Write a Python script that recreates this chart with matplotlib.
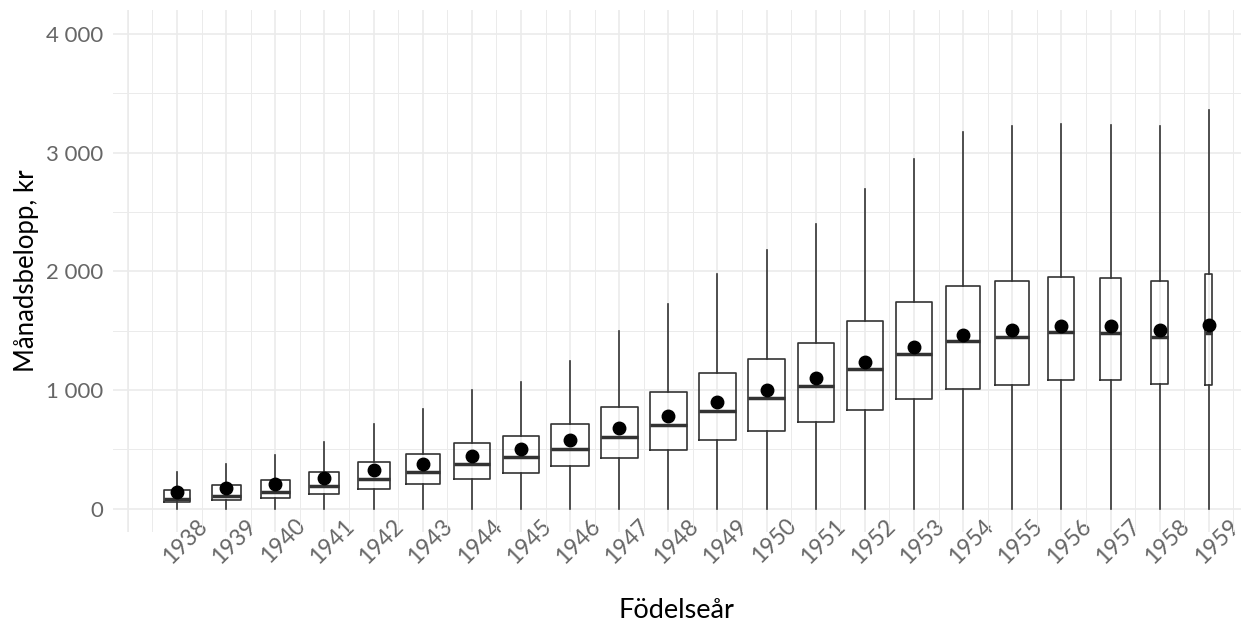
import matplotlib.pyplot as plt
import matplotlib.transforms as mtransforms
from matplotlib.ticker import FuncFormatter, MultipleLocator

# Födelseår och fördelning av månadsbelopp (kr)
years = list(range(1938, 1960))
q1 = [53, 70, 93, 126, 166, 208, 250, 301, 360, 424, 491, 575, 654, 730, 832, 926, 1005, 1038, 1080, 1080, 1047, 1044]
med = [78, 110, 143, 188, 253, 306, 373, 432, 505, 606, 705, 823, 932, 1033, 1178, 1303, 1412, 1443, 1485, 1476, 1448, 1479]
q3 = [154, 196, 238, 306, 390, 463, 553, 612, 710, 853, 985, 1139, 1263, 1398, 1578, 1737, 1878, 1914, 1948, 1942, 1920, 1975]
mean = [143, 171, 205, 255, 323, 379, 446, 499, 578, 682, 783, 895, 996, 1100, 1236, 1362, 1465, 1501, 1541, 1541, 1507, 1549]
whis_lo = [0] * 22
whis_hi = [306, 376, 452, 561, 716, 836, 996, 1069, 1240, 1493, 1724, 1979, 2178, 2397, 2692, 2945, 3175, 3223, 3242, 3231, 3223, 3354]
# relativ gruppstorlek (varwidth)
rel_size = [0.72, 0.78, 0.78, 0.80, 0.86, 0.91, 0.97, 0.98, 1.0, 1.0, 1.0, 1.0, 0.99, 0.97,
            0.97, 0.97, 0.91, 0.91, 0.70, 0.56, 0.46, 0.19]

plt.rcParams['font.family'] = ['Lato', 'DejaVu Sans']

fig = plt.figure(figsize=(12.52, 6.30), dpi=100)
ax = fig.add_axes([0.090, 0.156, 0.901, 0.828])

stats = []
for i in range(len(years)):
    stats.append(dict(med=med[i], q1=q1[i], q3=q3[i], whislo=whis_lo[i], whishi=whis_hi[i],
                      mean=mean[i], fliers=[]))

line_col = '#333333'
ax.bxp(stats, positions=years, widths=[0.76 * r for r in rel_size],
       showmeans=True, showcaps=False, showfliers=False,
       boxprops=dict(color=line_col, linewidth=1.2),
       whiskerprops=dict(color=line_col, linewidth=1.2),
       medianprops=dict(color=line_col, linewidth=2.5),
       meanprops=dict(marker='o', markerfacecolor='black', markeredgecolor='black', markersize=9),
       zorder=3)

ax.set_xlim(1936.69, 1959.65)
ax.set_ylim(-195, 4200)

ax.xaxis.set_major_locator(MultipleLocator(1))
ax.xaxis.set_minor_locator(MultipleLocator(0.5))
ax.yaxis.set_major_locator(MultipleLocator(1000))
ax.yaxis.set_minor_locator(MultipleLocator(500))
ax.set_xticks(years)
ax.set_xticklabels([str(y) for y in years])
ax.yaxis.set_major_formatter(FuncFormatter(lambda v, p: f"{int(v):,}".replace(",", " ")))

ax.grid(True, which='major', color='#EBEBEB', linewidth=1.2, zorder=0)
ax.grid(True, which='minor', color='#EBEBEB', linewidth=0.7, zorder=0)
# extra gridline for 1937 like the reference
ax.axvline(1937, color='#EBEBEB', linewidth=1.2, zorder=0)
ax.set_axisbelow(True)
for s in ax.spines.values():
    s.set_visible(False)

ax.tick_params(axis='both', which='both', length=0)
ax.tick_params(axis='y', labelsize=16, labelcolor='#666666', pad=7)
ax.tick_params(axis='x', labelsize=16.5, labelcolor='#666666', pad=-12)
offset = mtransforms.ScaledTranslation(8 / 100, 0, fig.dpi_scale_trans)
for lab in ax.get_xticklabels():
    lab.set_rotation(45)
    lab.set_ha('center')
    lab.set_va('top')
    lab.set_transform(lab.get_transform() + offset)

ax.set_xlabel("Födelseår", fontsize=19.5, labelpad=22)
ax.set_ylabel("Månadsbelopp, kr", fontsize=18.5, labelpad=5)

fig.savefig("out.png", dpi=100)
